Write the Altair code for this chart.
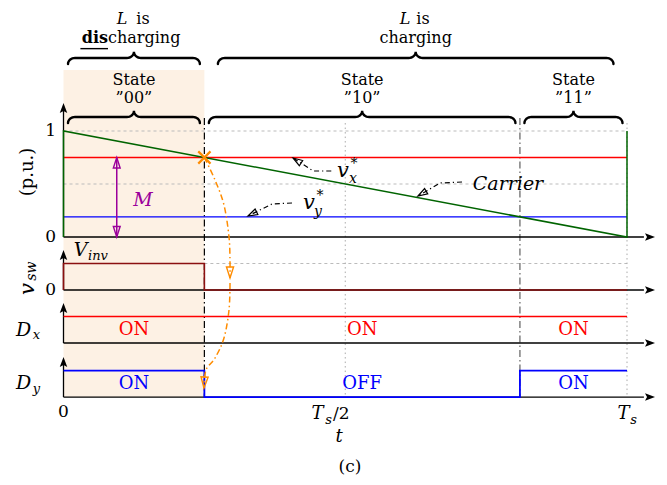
import math
import altair as alt
import pandas as pd

# ---------------- data ----------------
vx_ref = 0.75            # v_x* (p.u.)
vy_ref = 0.19            # v_y* (p.u.)
carrier_t = [0.0, 0.0, 1.0, 1.0]   # sawtooth carrier, t / Ts
carrier_v = [0.0, 1.0, 0.0, 1.0]
state_names = ["00", "10", "11"]
vsw_levels = [1, 0, 0]
dx_levels = [1, 1, 1]
dy_levels = [1, 0, 1]
dx_labels = ["ON", "ON", "ON"]
dy_labels = ["ON", "OFF", "ON"]
grid_pu = [1.0, 0.5]
time_marks = [0.5, 1.0]

# state boundaries = carrier crossings
t1 = 1 - vx_ref
t2 = 1 - vy_ref
bounds = [0.0, t1, t2, 1.0]
centers = [(a + b) / 2 for a, b in zip(bounds[:-1], bounds[1:])]

# ---------------- layout ----------------
W, H = 651, 469
KX, KY = 563.5, 106.0         # px per unit
X0, Y0 = 55.5, 229.0          # plot px of t=0, u=0
T_MIN, T_MAX = -X0 / KX, (W - X0) / KX
U_MIN, U_MAX = (Y0 - H) / KY, Y0 / KY
XS = alt.Scale(domain=[T_MIN, T_MAX], nice=False, zero=False)
YS = alt.Scale(domain=[U_MIN, U_MAX], nice=False, zero=False)
SERIF = "DejaVu Serif"

B_VSW, B_DX, B_DY, PH = -0.5, -1.0, -1.51, 0.25

RED, BLUE, GREEN = "#ff0000", "#0000ff", "#006400"
DRED, ORANGE, PURPLE = "#8b1010", "#ff8c00", "#9b009b"
BG = "#fdf1e4"

layers = []


def xy(ch):
    return ch.encode(x=alt.X("t:Q", scale=XS, axis=None),
                     y=alt.Y("u:Q", scale=YS, axis=None))


def line(ts, us, color="black", width=1.3, dash=None, interp=None, cap="butt"):
    df = pd.DataFrame({"t": ts, "u": us, "o": list(range(len(ts)))})
    kw = dict(color=color, strokeWidth=width, strokeCap=cap)
    if dash:
        kw["strokeDash"] = dash
    if interp:
        kw["interpolate"] = interp
    ch = alt.Chart(df).mark_line(**kw).encode(
        x=alt.X("t:Q", scale=XS, axis=None),
        y=alt.Y("u:Q", scale=YS, axis=None),
        order="o:Q")
    layers.append(ch)


def text(label, t, u, size=18, color="black", style="normal", weight="normal",
         align="center", baseline="middle", angle=0):
    df = pd.DataFrame({"t": [t], "u": [u], "s": [label]})
    kw = dict(font=SERIF, fontSize=size, color=color, align=align,
              baseline=baseline, fontStyle=style, fontWeight=weight)
    if angle:
        kw["angle"] = angle
    layers.append(xy(alt.Chart(df).mark_text(**kw)).encode(text="s:N"))


HEAD_FILLED = "M0,0L0.75,2L0,1.6L-0.75,2Z"
HEAD_OPEN = "M0,0L0.65,2L-0.65,2Z"


def head(t, u, angle, color="black", size=100, filled=True, width=1.0, shape=None):
    df = pd.DataFrame({"t": [t], "u": [u]})
    kw = dict(shape=shape or (HEAD_FILLED if filled else HEAD_OPEN), size=size,
              angle=angle % 360, filled=filled, color=color, opacity=1,
              strokeWidth=width)
    if filled:
        kw["strokeWidth"] = 0
    layers.append(xy(alt.Chart(df).mark_point(**kw)))


def direction(ta, ua, tb, ub):
    dx = (tb - ta) * KX
    dy = -(ub - ua) * KY
    return math.degrees(math.atan2(dx, -dy))


def arrow(ts, us, color="black", width=1.0, dash=None, size=100, filled=False,
          interp=None):
    line(ts, us, color=color, width=width, dash=dash, interp=interp)
    head(ts[-1], us[-1], direction(ts[-2], us[-2], ts[-1], us[-1]),
         color=color, size=size, filled=filled, width=width)


def brace(a, b, u, r=0.0125, d=0.057, n=8):
    m = (a + b) / 2
    ts, us = [], []
    for i in range(n + 1):
        s = i / n * math.pi / 2
        ts.append(a + r * (1 - math.cos(s))); us.append(u - d + d * math.sin(s))
    for i in range(n + 1):
        s = i / n * math.pi / 2
        ts.append(m - r + r * math.sin(s)); us.append(u + d * (1 - math.cos(s)))
    for i in range(n + 1):
        s = i / n * math.pi / 2
        ts.append(m + r * (1 - math.cos(s))); us.append(u + d - d * math.sin(s))
    for i in range(n + 1):
        s = i / n * math.pi / 2
        ts.append(b - r + r * math.sin(s)); us.append(u - d * (1 - math.cos(s)))
    line(ts, us, width=2.4, cap="round")


# ---------------- background ----------------
bg = pd.DataFrame({"t": [0.0], "t2": [t1], "u": [1.575], "u2": [B_DY]})
layers.append(alt.Chart(bg).mark_rect(color=BG).encode(
    x=alt.X("t:Q", scale=XS, axis=None), x2="t2:Q",
    y=alt.Y("u:Q", scale=YS, axis=None), y2="u2:Q"))

# grid lines
for g in grid_pu:
    line([0, 1], [g, g], color="#bbbbbb", width=1, dash=[3, 3])
line([t1, 1], [B_VSW + PH, B_VSW + PH], color="#bbbbbb", width=1, dash=[3, 3])
for tm in time_marks:
    line([tm, tm], [1.075, B_DY], color="#aaaaaa", width=1, dash=[1.5, 3])
# state borders
line([t1, t1], [1.123, B_DY], color="black", width=1.2, dash=[7, 3, 1.5, 3])
line([t2, t2], [1.123, B_DY], color="#606060", width=1.2, dash=[7, 3, 1.5, 3])

# axes
for base, tip in [(0.0, 1.264), (B_VSW, B_VSW + 0.377), (B_DX, B_DX + 0.377),
                  (B_DY, B_DY + 0.378)]:
    line([0, 0], [base, tip - 0.05], width=1.3)
    head(0, tip, 0)
    line([0, 1.03], [base, base], width=1.3)
    head(1.0497, base, 90)

# ---------------- waveforms ----------------
line([0, 1], [vx_ref, vx_ref], color=RED, width=1.4)
line([0, 1], [vy_ref, vy_ref], color=BLUE, width=1.4)
line(carrier_t, carrier_v, color=GREEN, width=1.5)


def steps(levels, base, pre=False):
    ts, us = ([0.0], [base]) if pre else ([], [])
    for (a, b), lv in zip(zip(bounds[:-1], bounds[1:]), levels):
        ts += [a, b]
        us += [base + PH * lv] * 2
    return ts, us


line(*steps(vsw_levels, B_VSW, pre=True), color=DRED, width=1.6)
line(*steps(dx_levels, B_DX), color=RED, width=1.5)
line(*steps(dy_levels, B_DY), color=BLUE, width=1.8)

for c, lab in zip(centers, dx_labels):
    text(lab, c, B_DX + 0.12, size=18, color=RED)
for c, lab in zip(centers, dy_labels):
    text(lab, c, B_DY + 0.12, size=18, color=BLUE)

# ---------------- braces and headers ----------------
g = 0.008
brace(0 + g, t1 - g, 1.689)
brace(t1 + 0.024, 1 - 0.024, 1.689)
for a, b in zip(bounds[:-1], bounds[1:]):
    brace(a + g, b - g, 1.132)

for c, nm in zip(centers, state_names):
    text("State", c, 1.434, size=16, baseline="alphabetic")
    text("\u201d" + nm + "\u201d", c, 1.264, size=16, baseline="alphabetic")

UL = 2.009   # baseline of "L is"
UC = 1.830   # baseline of "(dis)charging"
cd = t1 / 2
text("L", cd - 0.021, UL, size=16, style="italic", baseline="alphabetic")
text("is", cd + 0.016, UL, size=16, baseline="alphabetic")
text("dis", 0.0790, UC, size=16, weight="bold", align="right", baseline="alphabetic")
text("charging", 0.0790, UC, size=16, align="left", baseline="alphabetic")
line([0.0300, 0.0790], [1.777, 1.777], width=1.4)
cc = (t1 + 1) / 2
text("L", cc - 0.019, UL, size=16, style="italic", baseline="alphabetic")
text("is", cc + 0.013, UL, size=16, baseline="alphabetic")
text("charging", cc, UC, size=16, baseline="alphabetic")

# ---------------- axis labels ----------------
text("1", -0.0133, 1.0, size=17, align="right")
text("0", -0.0133, 0.0, size=17, align="right")
text("0", -0.0133, B_VSW, size=17, align="right")
text("(p.u.)", -0.063, 0.613, size=18, angle=270)
text("v", -0.063, -0.4906, size=21, style="italic", angle=270)
text("sw", -0.0565, -0.322, size=14, style="italic", angle=270)
text("D", -0.071, -0.877, size=19, style="italic")
text("x", -0.0479, -0.925, size=13, style="italic")
text("D", -0.071, -1.382, size=19, style="italic")
text("y", -0.0479, -1.434, size=13, style="italic")
text("V", 0.0302, -0.123, size=19, style="italic")
text("inv", 0.0435, -0.179, size=13, style="italic", align="left")

text("0", 0.0, -1.651, size=17)
text("T", 0.4508, -1.670, size=18, style="italic")
text("s", 0.4703, -1.727, size=13, style="italic")
text("/2", 0.4783, -1.670, size=17, align="left")
text("t", 0.4889, -1.887, size=18, style="italic")
text("T", 0.9938, -1.670, size=18, style="italic")
text("s", 1.0115, -1.727, size=13, style="italic")
text("(c)", 0.5084, -2.170, size=17)

# ---------------- annotations ----------------
DD = [5, 3, 1.2, 3]
text("v", 0.4960, 0.6226, size=21, style="italic")
text("*", 0.5155, 0.689, size=14)
text("x", 0.5138, 0.547, size=14, style="italic")
arrow([0.4752, 0.4432, 0.4073], [0.6226, 0.6226, 0.7453], dash=DD, size=90, width=1.2)

text("Carrier", 0.7888, 0.5, size=19, style="italic")
arrow([0.7072, 0.6681, 0.6291], [0.5189, 0.5094, 0.3868], dash=DD, size=90, width=1.2)

text("v", 0.4357, 0.3208, size=21, style="italic")
text("*", 0.4552, 0.3868, size=14)
text("y", 0.4516, 0.2358, size=14, style="italic")
arrow([0.4055, 0.3700, 0.3274], [0.3208, 0.3113, 0.1981], dash=DD, size=90, width=1.2)

# modulation index M
mt = 0.0945
line([mt, mt], [0.0, vx_ref], color=PURPLE, width=1.5)
head(mt, vx_ref, 0, color=PURPLE, size=110, filled=False, width=1.4)
head(mt, 0.0, 180, color=PURPLE, size=110, filled=False, width=1.4)
text("M", 0.1411, 0.349, size=19, color=PURPLE, style="italic")

# crossing marker and transitions
line([t1, 0.2689, 0.2848, 0.2937, 0.2955, 0.2955],
     [vx_ref, 0.5377, 0.3019, 0.0, -0.2358, -0.3868],
     color=ORANGE, width=1.5, dash=[6, 3, 1.5, 3], interp="cardinal")
head(0.2955, -0.3868, 180, color=ORANGE, size=120, filled=False, width=1.4)
line([0.2955, 0.2937, 0.2848, 0.2689, 0.2529, 0.2493],
     [-0.4340, -0.6887, -0.9528, -1.1415, -1.2547, -1.4245],
     color=ORANGE, width=1.5, dash=[6, 3, 1.5, 3], interp="cardinal")
head(0.2493, -1.4245, 183, color=ORANGE, size=120, filled=False, width=1.4)
head(t1, vx_ref, 0, color=ORANGE, size=150, filled=False, width=2.2,
     shape="M-1,-1L1,1M-1,1L1,-1")

chart = alt.layer(*layers).properties(
    width=W, height=H, padding=0,
    autosize=alt.AutoSizeParams(type="none")
).configure_view(strokeWidth=0)

chart.save("out.html", embed_options={"renderer": "svg", "actions": False})
